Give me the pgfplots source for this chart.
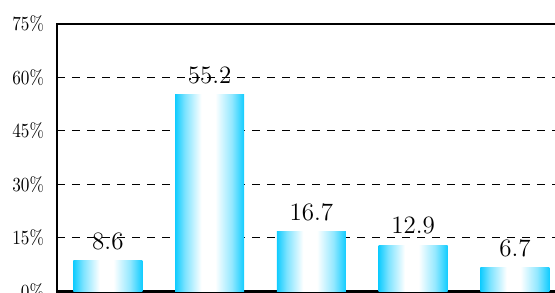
\documentclass[border=0pt]{standalone}
\usepackage{pgfplots}
\pgfplotsset{compat=1.18}
\definecolor{barcyan}{RGB}{16,204,255}
\pgfdeclarehorizontalshading{barshade}{100bp}{color(0bp)=(barcyan); color(25bp)=(barcyan); color(32bp)=(barcyan!55!white); color(44bp)=(white); color(54bp)=(white); color(66bp)=(barcyan!45!white); color(75bp)=(barcyan); color(100bp)=(barcyan)}
\pgfplotstableread{
x y lab
0 8.6 8.6
1 55.2 55.2
2 16.7 16.7
3 12.9 12.9
4 6.7 6.7
}\bardata
\begin{document}
\begin{tikzpicture}
\useasboundingbox (-28.5pt,-0.75pt) rectangle (249pt,145.75pt);
\clip (-28.5pt,-0.75pt) rectangle (249pt,145.75pt);
\begin{axis}[
  at={(0,0)}, anchor=south west,
  scale only axis,
  width=254.4pt, height=133.75pt,
  xmin=-0.5, xmax=4.5,
  ymin=0, ymax=75,
  ytick={0,15,30,45,60,75},
  yticklabel={\scalebox{0.86}[1]{$\pgfmathprintnumber{\tick}\%$}},
  yticklabel style={font=\fontsize{10.2}{12}\selectfont, xshift=-3pt},
  xtick=\empty,
  major tick length=0pt,
  axis line style={line width=1.3pt},
  ymajorgrids,
  grid style={black, line width=0.5pt, dash pattern=on 4pt off 3.5pt},
  barstyle/.style={draw=none, shading=barshade},
]
\addplot[barstyle] coordinates {(-0.339,0) (-0.339,8.6) (0.339,8.6) (0.339,0)} -- cycle;
\addplot[barstyle] coordinates {(0.661,0) (0.661,55.2) (1.339,55.2) (1.339,0)} -- cycle;
\addplot[barstyle] coordinates {(1.661,0) (1.661,16.7) (2.339,16.7) (2.339,0)} -- cycle;
\addplot[barstyle] coordinates {(2.661,0) (2.661,12.9) (3.339,12.9) (3.339,0)} -- cycle;
\addplot[barstyle] coordinates {(3.661,0) (3.661,6.7) (4.339,6.7) (4.339,0)} -- cycle;
\addplot[draw=none, mark=none,
  nodes near coords,
  every node near coord/.append style={font=\fontsize{12.5}{14}\selectfont, text=black, anchor=south, yshift=2pt},
  point meta=explicit symbolic]
  table[x=x, y=y, meta=lab] {\bardata};
\end{axis}
\end{tikzpicture}
\end{document}
